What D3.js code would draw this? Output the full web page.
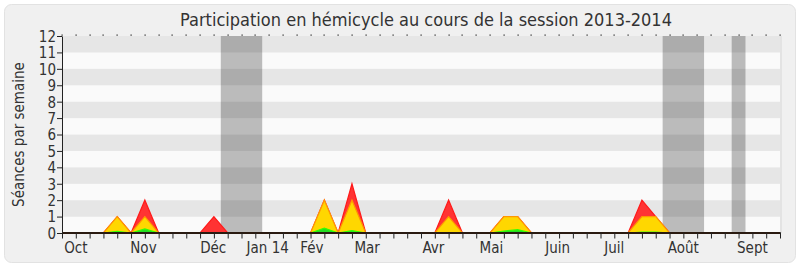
<!DOCTYPE html>
<html>
<head>
<meta charset="utf-8">
<script src="https://d3js.org/d3.v7.min.js"></script>
<style>
body { margin: 0; background: #fff; }
text { font-family: "DejaVu Sans Condensed", "DejaVu Sans", sans-serif; fill: #333; }
</style>
</head>
<body>
<div id="chart"></div>
<script>
// semaines de la session (0 = debut octobre)
var weeks = d3.range(0, 53);
// seances par semaine (rouge), presences (jaune), interventions (vert)
var seances = [0,0,0,0,1,0,2,0,0,0,0,1,0,0,0,0,0,0,0,2,0,3,0,0,0,0,0,0,2,0,0,0,1,1,0,0,0,0,0,0,0,0,2,1,0,0,0,0,0,0,0,0,0];
var presences = [0,0,0,0,1,0,1,0,0,0,0,0,0,0,0,0,0,0,0,2,0,2,0,0,0,0,0,0,1,0,0,0,1,1,0,0,0,0,0,0,0,0,1,1,0,0,0,0,0,0,0,0,0];
var interventions = [0,0,0,0,0.1,0,0.25,0,0,0,0,0,0,0,0,0,0,0,0,0.3,0,0.15,0,0,0,0,0,0,0,0,0,0,0.12,0.2,0,0,0,0,0,0,0,0,0.05,0.05,0,0,0,0,0,0,0,0,0];
// vacances parlementaires [debut, fin] en semaines
var vacStart = [11.5, 43.5, 48.5];
var vacEnd = [14.5, 46.5, 49.5];
// mois
var monthLabels = ["Oct","Nov","Déc","Jan 14","Fév","Mar","Avr","Mai","Juin","Juil","Août","Sept"];
var monthPos = [1, 5.9, 10.95, 14.9, 18.1, 22.1, 26.9, 31.1, 35.9, 40, 45, 50];
var yTicks = d3.range(0, 13);

var W = 800, H = 267;
var margin = {top: 36, right: 20, bottom: 34, left: 62};
var width = W - margin.left - margin.right,
    height = H - margin.top - margin.bottom;

var svg = d3.select("#chart").append("svg")
    .attr("width", W).attr("height", H);

svg.append("rect")
    .attr("x", 4.5).attr("y", 4.5)
    .attr("width", W - 9).attr("height", H - 9)
    .attr("rx", 7)
    .style("fill", "#f0f0f0")
    .style("stroke", "#e2e2e2");

svg.append("text")
    .attr("x", 426).attr("y", 26)
    .attr("text-anchor", "middle")
    .style("font-size", "18px")
    .text("Participation en hémicycle au cours de la session 2013-2014");

svg.append("text")
    .attr("transform", "translate(24," + (margin.top + height / 2) + ") rotate(-90)")
    .attr("text-anchor", "middle")
    .style("font-size", "15px")
    .text("Séances par semaine");

var g = svg.append("g")
    .attr("transform", "translate(" + margin.left + "," + margin.top + ")");

var x = d3.scaleLinear().domain([0, 52]).range([0, width]);
var y = d3.scaleLinear().domain([0, 12]).range([height, 0]);

// bandes horizontales
g.selectAll(".band")
  .data(d3.range(0, 12))
  .enter().append("rect")
    .attr("x", 0)
    .attr("y", function(d) { return y(d + 1); })
    .attr("width", width)
    .attr("height", function(d) { return y(d) - y(d + 1); })
    .style("fill", function(d) { return d % 2 == 1 ? "#e6e6e6" : "#fafafa"; });

g.append("line")
    .attr("x1", width + 1).attr("x2", width + 1)
    .attr("y1", 0).attr("y2", height)
    .style("stroke", "#d6d6d6");

// vacances
g.selectAll(".vac")
  .data(vacStart)
  .enter().append("rect")
    .attr("x", function(d) { return x(d); })
    .attr("y", 0)
    .attr("width", function(d, i) { return x(vacEnd[i]) - x(d); })
    .attr("height", height)
    .style("fill", "#000")
    .style("opacity", 0.25);

function drawArea(vals, fill, stroke) {
  var area = d3.area()
    .x(function(d) { return x(d); })
    .y0(y(0))
    .y1(function(d, i) { return y(vals[i]); });
  g.append("path")
    .datum(weeks)
    .attr("d", area)
    .style("fill", fill)
    .style("stroke", stroke)
    .style("stroke-width", 1.2);
}
drawArea(seances, "#ff3333", "#ff1a1a");
drawArea(presences, "#ffd700", "#ff9900");
drawArea(interventions, "#22dd22", "#33ff00");

// axe y
var yAxis = g.append("g")
    .call(d3.axisLeft(y).tickValues(yTicks).tickSize(5).tickSizeOuter(0));
yAxis.selectAll("text").style("font-size", "15px").attr("dy", "0.36em").attr("x", -6);
yAxis.selectAll("line, path").style("stroke", "#222");

// axe x
var xAxis = g.append("g")
    .attr("transform", "translate(0," + (height - 0.5) + ")")
    .call(d3.axisBottom(x).tickValues(weeks).tickSize(6).tickSizeOuter(0).tickFormat(""));
xAxis.selectAll("line").style("stroke", "#222");
xAxis.select("path").style("stroke", "#2a1a10").style("stroke-width", 2.2);

g.selectAll(".month")
  .data(monthLabels)
  .enter().append("text")
    .attr("x", function(d, i) { return x(monthPos[i]); })
    .attr("y", height + 20)
    .attr("text-anchor", "middle")
    .style("font-size", "15px")
    .text(function(d) { return d; });

// petits points en haut
g.selectAll(".dot")
  .data(weeks)
  .enter().append("rect")
    .attr("x", function(d) { return Math.round(x(d)) - 0.5; })
    .attr("y", -1.5)
    .attr("width", 1.2).attr("height", 1.2)
    .style("fill", "#222");
</script>
</body>
</html>
